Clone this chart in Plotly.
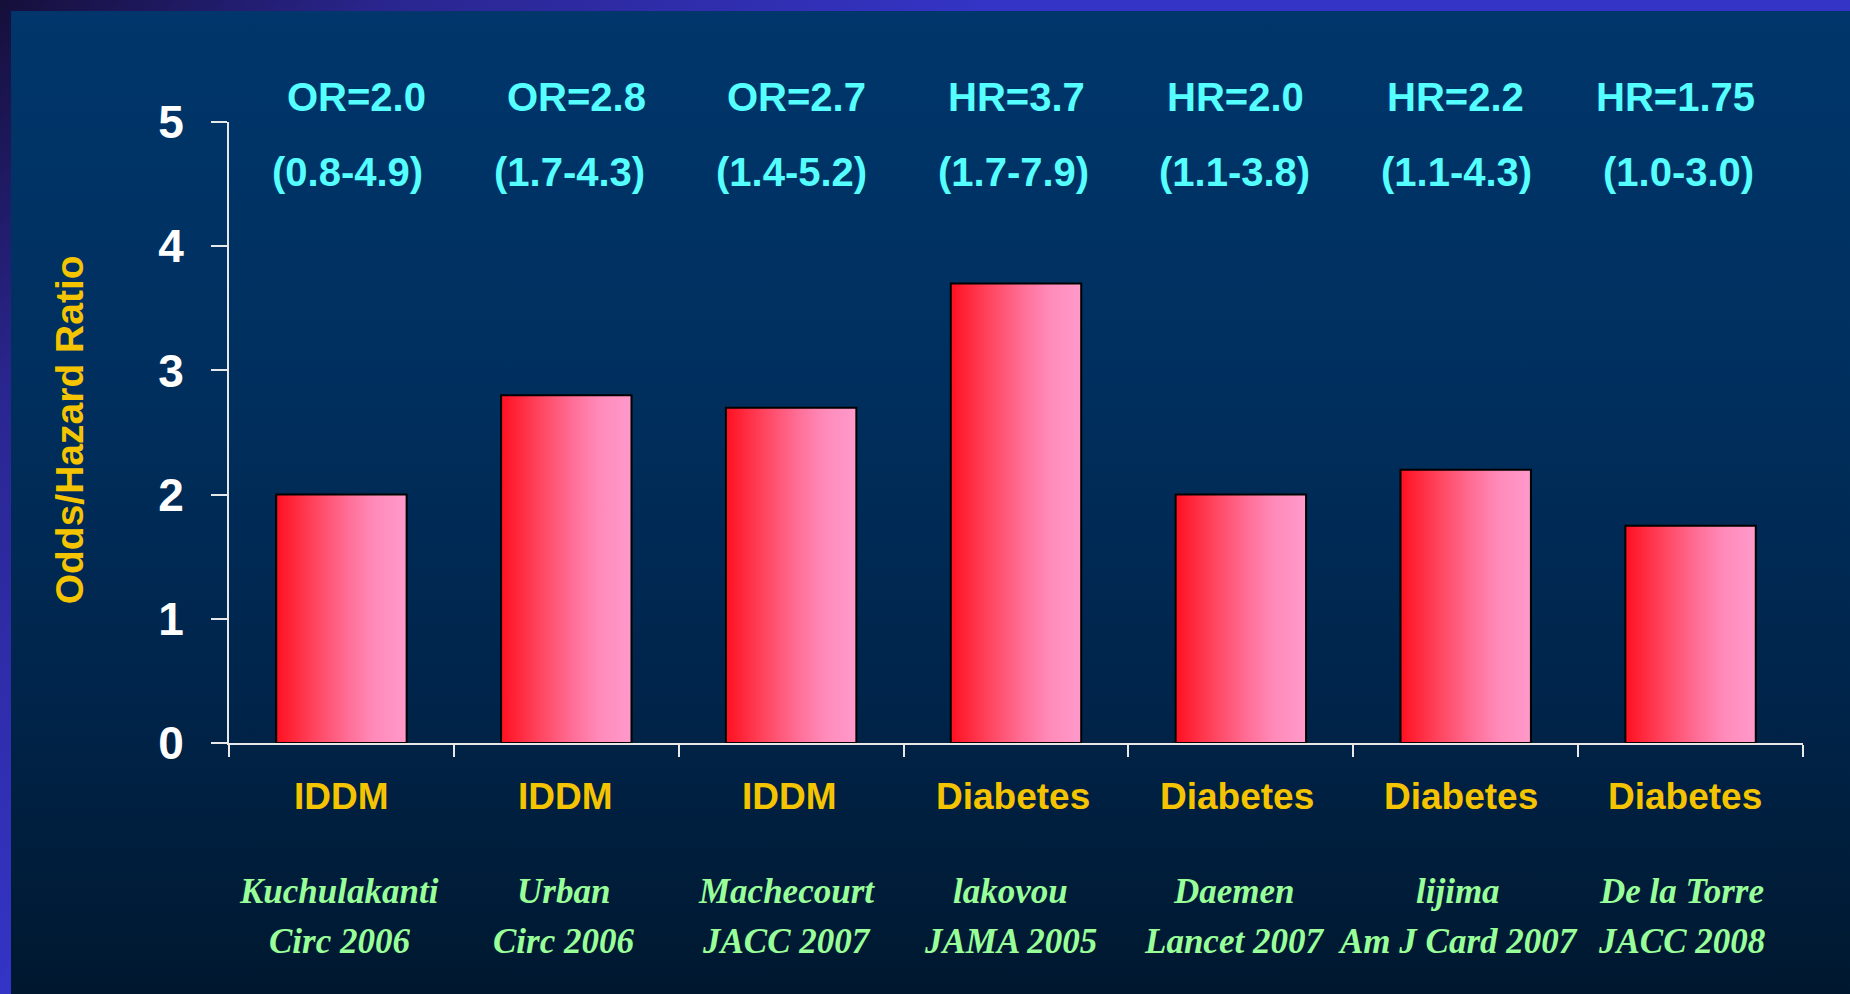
import plotly.graph_objects as go

# Study data
authors = ["Kuchulakanti", "Urban", "Machecourt", "lakovou", "Daemen", "lijima", "De la Torre"]
journals = ["Circ 2006", "Circ 2006", "JACC 2007", "JAMA 2005", "Lancet 2007", "Am J Card 2007", "JACC 2008"]
conditions = ["IDDM", "IDDM", "IDDM", "Diabetes", "Diabetes", "Diabetes", "Diabetes"]
measures = ["OR", "OR", "OR", "HR", "HR", "HR", "HR"]
ratios = [2.0, 2.8, 2.7, 3.7, 2.0, 2.2, 1.75]
ci_low = [0.8, 1.7, 1.4, 1.7, 1.1, 1.1, 1.0]
ci_high = [4.9, 4.3, 5.2, 7.9, 3.8, 4.3, 3.0]
y_ticks = [0, 1, 2, 3, 4, 5]

SANS = "Arial, 'Liberation Sans', sans-serif"
SERIF = "'Times New Roman', 'Liberation Serif', serif"
CYAN = "#55ffff"
GOLD = "#f5c400"
GREEN = "#99ff99"


def fmt_ratio(v):
    s = f"{v:.2f}"
    return s[:-1] if s.endswith("0") else s


fig = go.Figure(
    go.Bar(
        x=authors,
        y=ratios,
        marker=dict(color="#ff5a80", line=dict(color="#000000", width=2)),
        hoverinfo="skip",
    )
)

annotations = []
for i, (a, cond, meas, v, lo, hi, jr) in enumerate(
        zip(authors, conditions, measures, ratios, ci_low, ci_high, journals)):
    # the estimate rows above the bars sit on a slightly tighter pitch than the bars
    annotations += [
        dict(x=a, y=1.0406, xshift=(3 - i) * 5, text=f"{meas}={fmt_ratio(v)}",
             font=dict(family=SANS, size=40, color=CYAN, weight="bold")),
        dict(x=a, y=0.919, xshift=(2 - i) * 3, text=f"({lo:.1f}-{hi:.1f})",
             font=dict(family=SANS, size=40, color=CYAN, weight="bold")),
        dict(x=a, y=-0.0861, xshift=-i, text=cond,
             font=dict(family=SANS, size=37, color=GOLD, weight="bold")),
        dict(x=a, y=-0.239, xshift=-1.2 * i - 2, text=a,
             font=dict(family=SERIF, size=35, color=GREEN, weight="bold", style="italic")),
        dict(x=a, y=-0.319, xshift=-1.2 * i - 2, text=jr,
             font=dict(family=SERIF, size=35, color=GREEN, weight="bold", style="italic")),
    ]
for ann in annotations:
    ann.update(xref="x", yref="paper", xanchor="center", yanchor="middle", showarrow=False)

annotations.append(dict(
    text="Odds/Hazard Ratio", xref="paper", yref="paper", x=-0.1017, y=0.505,
    xanchor="center", yanchor="middle", textangle=-90, showarrow=False,
    font=dict(family=SANS, size=39, color=GOLD, weight="bold"),
))

fig.update_layout(
    width=1850,
    height=994,
    margin=dict(l=229, r=47, t=122, b=251, pad=0),
    paper_bgcolor="rgba(0,0,0,0)",
    plot_bgcolor="rgba(0,0,0,0)",
    bargap=0.42,
    showlegend=False,
    annotations=annotations,
    xaxis=dict(
        type="category",
        range=[-0.5, len(authors) - 0.5],
        tickson="boundaries",
        ticks="outside",
        ticklen=12,
        tickwidth=2,
        tickcolor="#e8e8e8",
        showline=True,
        linecolor="#e8e8e8",
        linewidth=2,
        showgrid=False,
        showticklabels=False,
        fixedrange=True,
    ),
    yaxis=dict(
        range=[0, 5],
        tickvals=y_ticks,
        ticks="outside",
        ticklen=16,
        tickwidth=2,
        tickcolor="#e8e8e8",
        showline=True,
        linecolor="#e8e8e8",
        linewidth=2,
        showgrid=False,
        zeroline=False,
        ticklabelstandoff=18,
        tickfont=dict(family=SANS, size=46, color="#ffffff", weight="bold"),
        fixedrange=True,
    ),
)

# Page background (framed slide) and horizontal red-to-pink fill for the bars
post_js = """
(function(){
  var gd = document.getElementById('{plot_id}');
  document.documentElement.style.margin = '0';
  document.body.style.margin = '0';
  document.body.style.overflow = 'hidden';
  gd.style.background =
    'linear-gradient(to bottom, #00366b 0%, #002f5e 38%, #00244a 70%, #00182f 100%) 11px 11px / calc(100% - 11px) calc(100% - 11px) no-repeat, ' +
    'linear-gradient(135deg, #150f3a 0%, #2a2690 14%, #3434c6 35%, #3434c8 100%)';
  function paint(){
    var svg = gd.querySelector('.main-svg');
    if (!svg) return;
    var defs = svg.querySelector('defs');
    if (!svg.querySelector('#barFill')) {
      var ns = 'http://www.w3.org/2000/svg';
      var g = document.createElementNS(ns, 'linearGradient');
      g.setAttribute('id', 'barFill');
      g.setAttribute('x1', '0'); g.setAttribute('y1', '0');
      g.setAttribute('x2', '1'); g.setAttribute('y2', '0');
      [['0%', '#ff1020'], ['30%', '#ff4660'], ['55%', '#ff6e96'], ['75%', '#ff8ab9'], ['100%', '#ff9acb']].forEach(function(s){
        var st = document.createElementNS(ns, 'stop');
        st.setAttribute('offset', s[0]);
        st.setAttribute('stop-color', s[1]);
        g.appendChild(st);
      });
      defs.appendChild(g);
    }
    gd.querySelectorAll('.barlayer .point path').forEach(function(p){
      p.style.fill = 'url(#barFill)';
    });
  }
  paint();
  gd.on('plotly_afterplot', paint);
})();
"""

fig.write_html("out.html", post_script=post_js, config={"displayModeBar": False})
